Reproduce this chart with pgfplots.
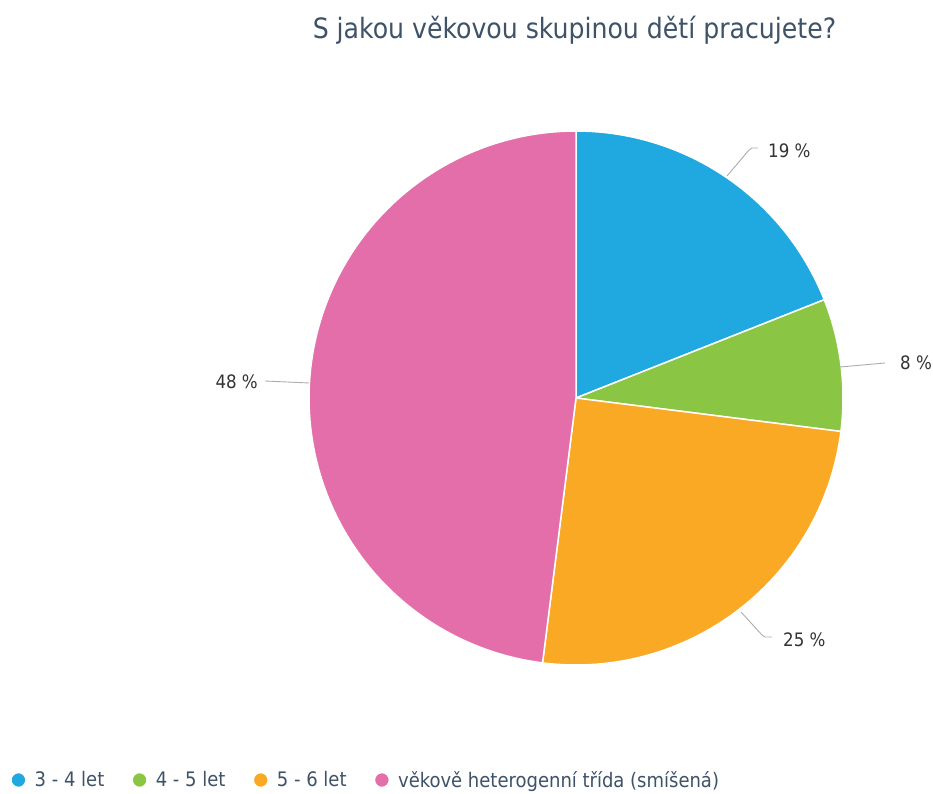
\documentclass[border=0pt]{standalone}
\usepackage{fontspec}
\setmainfont{DejaVu Sans Condensed}
\usepackage{pgfplots}
\pgfplotsset{compat=1.18}
\definecolor{cblue}{RGB}{32,168,224}
\definecolor{cgreen}{RGB}{139,197,68}
\definecolor{corange}{RGB}{250,169,37}
\definecolor{cpink}{RGB}{228,110,170}
\definecolor{ctitle}{RGB}{62,82,104}
\definecolor{ctext}{RGB}{51,51,51}
\begin{document}
\begin{tikzpicture}
% slice values (percent)
\def\va{19}\def\vb{8}\def\vc{25}\def\vd{48}
\pgfmathsetmacro{\aa}{3.6*\va}
\pgfmathsetmacro{\ab}{3.6*(\va+\vb)}
\pgfmathsetmacro{\ac}{3.6*(\va+\vb+\vc)}
\pgfmathsetmacro{\ad}{3.6*(\va+\vb+\vc+\vd)}
\def\cx{576}\def\cy{395}\def\r{267}
\begin{axis}[scale only axis, width=933pt, height=793pt,
  xmin=0, xmax=933, ymin=0, ymax=793, hide axis, clip=false,
  legend style={at={(axis cs:7,13)}, anchor=west, draw=none, fill=none,
    font=\fontsize{20}{22}\selectfont, text=ctitle, legend columns=4,
    /tikz/every even column/.append style={column sep=25pt},
    /tikz/every odd column/.append style={column sep=6pt}},
  legend image code/.code={\fill[#1] (0,0) circle (7.5pt);},
  every axis plot/.append style={line join=round}]
\addplot[fill=cblue, draw=white, line width=1.5pt, domain=0:\aa, samples=60, variable=\t]
  ({\cx+\r*sin(t)},{\cy+\r*cos(t)}) -- (\cx,\cy) -- cycle;
\addlegendentry{3 - 4 let}
\addplot[fill=cgreen, draw=white, line width=1.5pt, domain=\aa:\ab, samples=30, variable=\t]
  ({\cx+\r*sin(t)},{\cy+\r*cos(t)}) -- (\cx,\cy) -- cycle;
\addlegendentry{4 - 5 let}
\addplot[fill=corange, draw=white, line width=1.5pt, domain=\ab:\ac, samples=80, variable=\t]
  ({\cx+\r*sin(t)},{\cy+\r*cos(t)}) -- (\cx,\cy) -- cycle;
\addlegendentry{5 - 6 let}
\addplot[fill=cpink, draw=white, line width=1.5pt, domain=\ac:\ad, samples=150, variable=\t]
  ({\cx+\r*sin(t)},{\cy+\r*cos(t)}) -- (\cx,\cy) -- cycle;
\addlegendentry{věkově heterogenní třída (smíšená)}
% leader lines
\addplot[gray!65, line width=0.9pt, forget plot] coordinates {(727,617) (749,643) (752,645) (758,645)};
\addplot[gray!65, line width=0.9pt, forget plot] coordinates {(840,426) (885,430)};
\addplot[gray!65, line width=0.9pt, forget plot] coordinates {(265,412) (309,410)};
\addplot[gray!65, line width=0.9pt, forget plot] coordinates {(741,181) (762,158) (765,156) (772,156)};
% labels
\node[anchor=west, text=ctext, font=\fontsize{18.5}{20}\selectfont, inner sep=0pt] at (axis cs:768,642) {19 \%};
\node[anchor=west, text=ctext, font=\fontsize{18.5}{20}\selectfont, inner sep=0pt] at (axis cs:900,430) {8 \%};
\node[anchor=east, text=ctext, font=\fontsize{18.5}{20}\selectfont, inner sep=0pt] at (axis cs:258,411) {48 \%};
\node[anchor=west, text=ctext, font=\fontsize{18.5}{20}\selectfont, inner sep=0pt] at (axis cs:783,153) {25 \%};
% title
\node[text=ctitle, font=\fontsize{28}{32}\selectfont] at (axis cs:574.5,763) {S jakou věkovou skupinou dětí pracujete?};
\end{axis}
\pgfresetboundingbox
\path (current axis.south west) rectangle (current axis.north east);
\end{tikzpicture}
\end{document}
